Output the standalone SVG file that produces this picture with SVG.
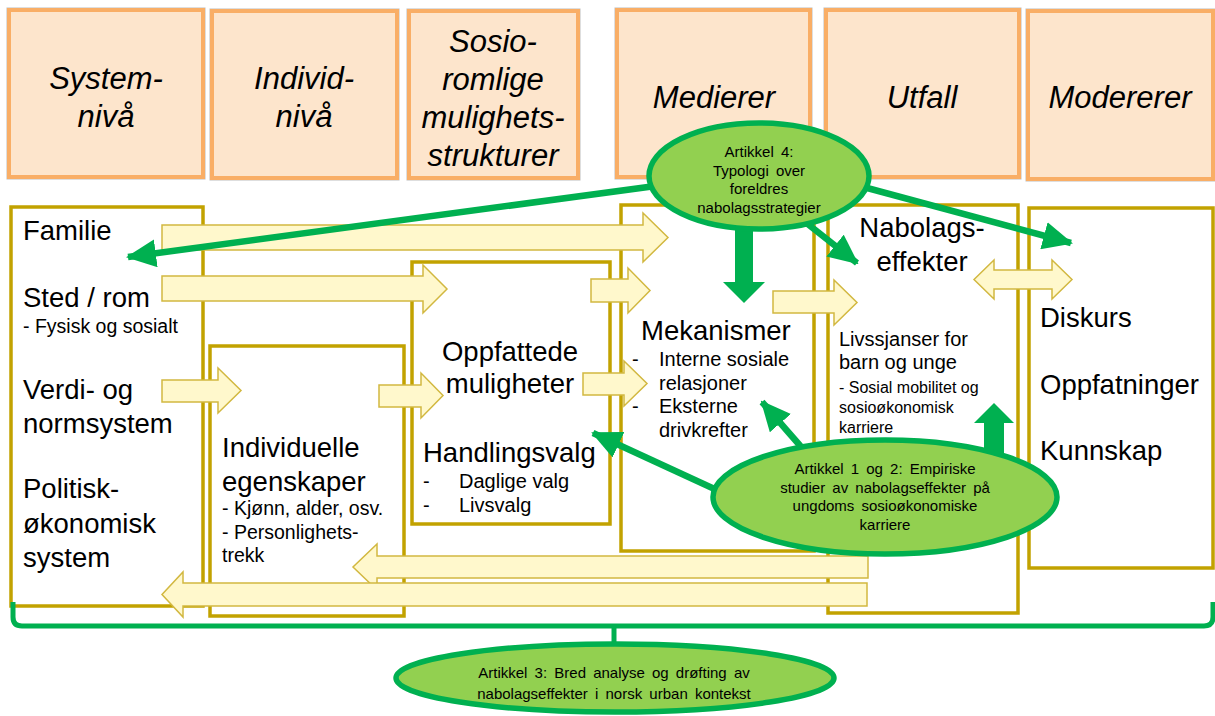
<svg xmlns="http://www.w3.org/2000/svg" width="1215" height="716" viewBox="0 0 1215 716">
<defs>
<style>
.hdr{fill:#FDE5CC;stroke:#F9AE66;stroke-width:4}
.hdrout{fill:none;stroke:#BDBDBD;stroke-width:1}
.ht{font-family:"Liberation Sans",Arial,sans-serif;font-style:italic;font-size:31px;fill:#000;text-anchor:middle}
.box{fill:#fff;stroke:#C2A200;stroke-width:3.5}
.t{font-family:"Liberation Sans",Arial,sans-serif;fill:#000}
.big{font-size:27.5px}
.s19{font-size:19.5px}
.s20{font-size:20px}
.s16{font-size:16px}
.mid{text-anchor:middle}
.ya{fill:#FFF8CC;stroke:#D2B840;stroke-width:1.5}
.gl{stroke:#00B050;stroke-width:6.5;fill:none}
.gf{fill:#00B050}
.ell{fill:#92D050;stroke:#00B050;stroke-width:5.5}
.et{font-family:"Liberation Sans",Arial,sans-serif;font-size:15px;fill:#000;text-anchor:middle;word-spacing:3px}
</style>
<marker id="gh" markerUnits="userSpaceOnUse" markerWidth="30" markerHeight="28" refX="28" refY="14" orient="auto" viewBox="0 0 30 28">
<path d="M0,0 L30,14 L0,28 Z" fill="#00B050"/>
</marker>
</defs>
<rect width="1215" height="716" fill="#fff"/>

<g id="header-systemniva">
<rect class="hdrout" x="7" y="8" width="198" height="171"/>
<rect class="hdr" x="9" y="10" width="194" height="167"/>
<text class="ht" x="106" y="89">System-</text>
<text class="ht" x="106" y="127">nivå</text>
</g>
<g id="header-individniva">
<rect class="hdrout" x="210" y="9" width="189" height="171"/>
<rect class="hdr" x="212" y="11" width="185" height="167"/>
<text class="ht" x="304" y="89">Individ-</text>
<text class="ht" x="304" y="127">nivå</text>
</g>
<g id="header-sosioromlige">
<rect class="hdrout" x="407" y="9" width="173" height="171"/>
<rect class="hdr" x="409" y="11" width="169" height="167"/>
<text class="ht" x="493" y="52">Sosio-</text>
<text class="ht" x="493" y="90">romlige</text>
<text class="ht" x="493" y="128">mulighets-</text>
<text class="ht" x="493" y="166">strukturer</text>
</g>
<g id="header-medierer">
<rect class="hdrout" x="615" y="8" width="197" height="171"/>
<rect class="hdr" x="617" y="10" width="193" height="167"/>
<text class="ht" x="714" y="108">Medierer</text>
</g>
<g id="header-utfall">
<rect class="hdrout" x="824" y="8" width="197" height="171"/>
<rect class="hdr" x="826" y="10" width="193" height="167"/>
<text class="ht" x="922" y="108">Utfall</text>
</g>
<g id="header-modererer">
<rect class="hdrout" x="1026" y="9" width="189" height="172"/>
<rect class="hdr" x="1028" y="11" width="185" height="168"/>
<text class="ht" x="1120" y="108">Modererer</text>
</g>

<g id="node-systemniva">
<rect class="box" x="11" y="207" width="192" height="399"/>
<text class="t big" x="23" y="240">Familie</text>
<text class="t big" x="23" y="307">Sted / rom</text>
<text class="t s19" x="23" y="333">- Fysisk og sosialt</text>
<text class="t big" x="23" y="399">Verdi- og</text>
<text class="t big" x="23" y="433">normsystem</text>
<text class="t big" x="23" y="498">Politisk-</text>
<text class="t big" x="23" y="533">økonomisk</text>
<text class="t big" x="23" y="567">system</text>
</g>
<g id="node-individuelle">
<rect class="box" x="210" y="346" width="194" height="270"/>
<text class="t big" x="222" y="457">Individuelle</text>
<text class="t big" x="222" y="491">egenskaper</text>
<text class="t s19" x="222" y="515">- Kjønn, alder, osv.</text>
<text class="t s19" x="222" y="539">- Personlighets-</text>
<text class="t s19" x="222" y="562">trekk</text>
</g>
<g id="node-oppfattede">
<rect class="box" x="412" y="262" width="198" height="262"/>
<text class="t big mid" x="510" y="361">Oppfattede</text>
<text class="t big mid" x="510" y="393">muligheter</text>
<text class="t big" x="423" y="462">Handlingsvalg</text>
<text class="t s20" x="423" y="488">-</text>
<text class="t s20" x="459" y="488">Daglige valg</text>
<text class="t s20" x="423" y="512">-</text>
<text class="t s20" x="459" y="512">Livsvalg</text>
</g>
<g id="node-mekanismer">
<rect class="box" x="621" y="205" width="193" height="346"/>
<text class="t big" x="641" y="340">Mekanismer</text>
<text class="t s20" x="632" y="366">-</text>
<text class="t s20" x="659" y="366">Interne sosiale</text>
<text class="t s20" x="659" y="390">relasjoner</text>
<text class="t s20" x="632" y="413">-</text>
<text class="t s20" x="659" y="413">Eksterne</text>
<text class="t s20" x="659" y="437">drivkrefter</text>
</g>
<g id="node-nabolagseffekter">
<rect class="box" x="828" y="205" width="190" height="408"/>
<text class="t big mid" x="922" y="237">Nabolags-</text>
<text class="t big mid" x="922" y="271">effekter</text>
<text class="t s20" x="839" y="346">Livssjanser for</text>
<text class="t s20" x="839" y="369">barn og unge</text>
<text class="t s16" x="839" y="393">- Sosial mobilitet og</text>
<text class="t s16" x="839" y="413">sosioøkonomisk</text>
<text class="t s16" x="839" y="433">karriere</text>
</g>
<g id="node-modererer">
<rect class="box" x="1029" y="208" width="184" height="360"/>
<text class="t big" x="1040" y="327">Diskurs</text>
<text class="t big" x="1040" y="394">Oppfatninger</text>
<text class="t big" x="1040" y="460">Kunnskap</text>
</g>

<g id="connectors">
<path class="ya" d="M162,225 L643,225 L643,213 L668,237.5 L643,262 L643,250 L162,250 Z"/>
<path class="ya" d="M162,276 L423,276 L423,265 L447,289 L423,313 L423,301 L162,301 Z"/>
<path class="ya" d="M162,380 L218,380 L218,368 L241,390.5 L218,413 L218,402 L162,402 Z"/>
<path class="ya" d="M379,385 L421,385 L421,373 L443,395.5 L421,418 L421,407 L379,407 Z"/>
<path class="ya" d="M591,279 L628,279 L628,268 L650,290.5 L628,313 L628,302 L591,302 Z"/>
<path class="ya" d="M583,373 L624,373 L624,361 L647,383.5 L624,406 L624,395 L583,395 Z"/>
<path class="ya" d="M773,291 L834,291 L834,280 L857,302.5 L834,325 L834,313 L773,313 Z"/>
<path class="ya" d="M974,279.5 L994,260 L994,270 L1052,270 L1052,260 L1072,279.5 L1052,299 L1052,289 L994,289 L994,299 Z"/>
<path class="ya" d="M868,556 L377,556 L377,544 L353,567 L377,590 L377,578 L868,578 Z"/>
<path class="ya" d="M867,583 L183,583 L183,572 L162,594.5 L183,617 L183,606 L867,606 Z"/>

<line class="gl" x1="700" y1="180" x2="128" y2="257" marker-end="url(#gh)"/>
<line class="gl" x1="830" y1="178" x2="1071" y2="243" marker-end="url(#gh)"/>
<line class="gl" x1="790" y1="210" x2="857" y2="263" marker-end="url(#gh)"/>
<path class="gf" d="M735,225 L753,225 L753,282 L765,282 L744,303 L723,282 L735,282 Z"/>
<line class="gl" x1="760" y1="510" x2="593" y2="433" marker-end="url(#gh)"/>
<line class="gl" x1="830" y1="480" x2="762" y2="402" marker-end="url(#gh)"/>
<path class="gf" d="M984,460 L1004,460 L1004,423 L1014,423 L994,403 L974,423 L984,423 Z"/>
<path class="gl" style="stroke-width:5" d="M13,602 L13,617 Q13,626 22,626 L1204,626 Q1213,626 1213,617 L1213,602"/>
<path class="gl" style="stroke-width:5" d="M614,624 L614,650"/>
</g>

<g id="node-artikkel4">
<ellipse class="ell" cx="759" cy="176" rx="110" ry="53"/>
<text class="et" x="759" y="157">Artikkel 4:</text>
<text class="et" x="759" y="176">Typologi over</text>
<text class="et" x="759" y="194">foreldres</text>
<text class="et" x="759" y="213">nabolagsstrategier</text>
</g>
<g id="node-artikkel12">
<ellipse class="ell" cx="885" cy="497" rx="172" ry="57"/>
<text class="et" x="885" y="474">Artikkel 1 og 2: Empiriske</text>
<text class="et" x="885" y="493">studier av nabolagseffekter på</text>
<text class="et" x="885" y="511">ungdoms sosioøkonomiske</text>
<text class="et" x="885" y="530">karriere</text>
</g>
<g id="node-artikkel3">
<ellipse class="ell" cx="615" cy="678" rx="219" ry="34"/>
<text class="et" x="614" y="678">Artikkel 3: Bred analyse og drøfting av</text>
<text class="et" x="614" y="699">nabolagseffekter i norsk urban kontekst</text>
</g>
</svg>
